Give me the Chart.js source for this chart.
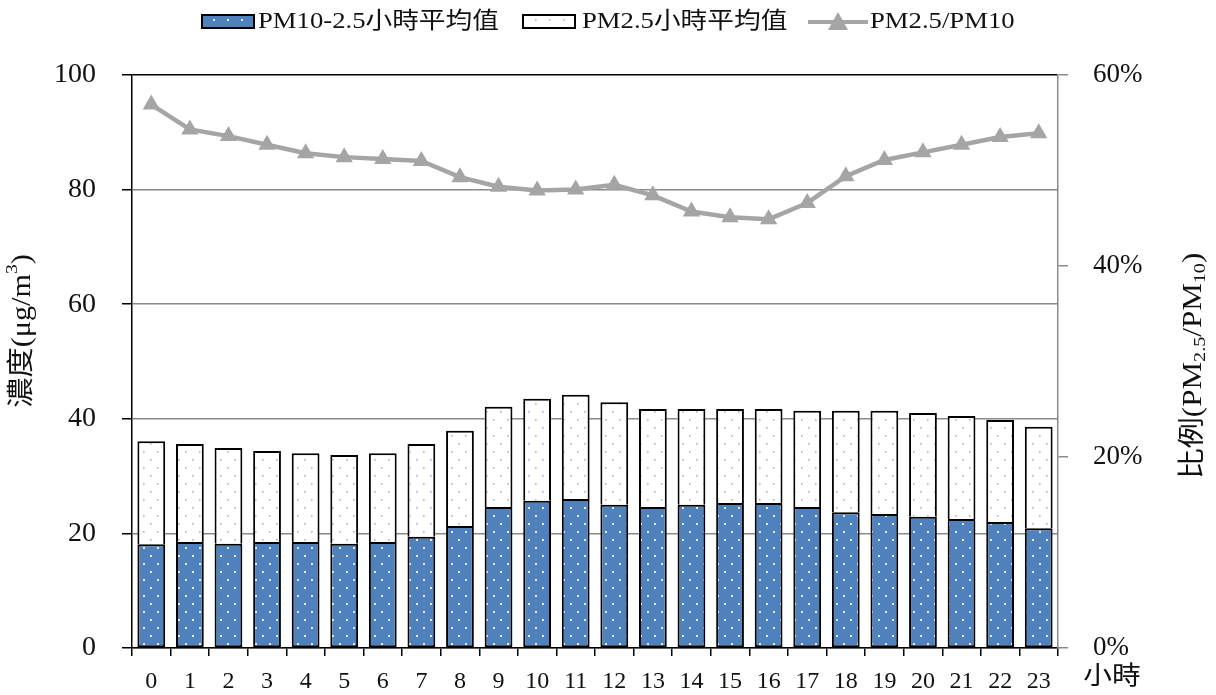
<!DOCTYPE html>
<html>
<head>
<meta charset="utf-8">
<script src="https://cdn.jsdelivr.net/npm/chart.js@4.4.1/dist/chart.umd.min.js"></script>
<style>
html,body{margin:0;padding:0;background:#fff;}
#wrap{width:1216px;height:695px;position:relative;}
</style>
</head>
<body>
<div id="wrap"><canvas id="c" width="1216" height="695"></canvas></div>
<script>
// ---- data ----
const hours = ['0','1','2','3','4','5','6','7','8','9','10','11','12','13','14','15','16','17','18','19','20','21','22','23'];
const pm10_25 = [18.1,18.5,18.2,18.5,18.5,18.2,18.5,19.4,21.3,24.6,25.7,26.0,25.0,24.6,25.0,25.3,25.3,24.6,23.7,23.4,22.9,22.5,22.0,20.9];
const pm25 = [18.0,17.1,16.7,15.9,15.5,15.5,15.5,16.2,16.6,17.5,17.8,18.2,17.9,17.1,16.7,16.4,16.4,16.8,17.7,18.0,18.1,18.0,17.8,17.7];
const ratio = [0.569,0.543,0.536,0.527,0.518,0.514,0.512,0.510,0.493,0.483,0.479,0.480,0.485,0.474,0.457,0.451,0.449,0.466,0.494,0.511,0.519,0.527,0.535,0.539];
const leftTicks = [0,20,40,60,80,100];
const rightTicks = [0,0.2,0.4,0.6];
const seriesNames = ['PM10-2.5小時平均值','PM2.5小時平均值','PM2.5/PM10'];

const BLUE = '#4f81bd';
const GRAY = '#a5a5a5';
const SERIF = "'Liberation Serif','Noto Sans CJK TC',serif";

function makePattern(bg, dot, size){
  const c = document.createElement('canvas');
  c.width = 14; c.height = 16;
  const x = c.getContext('2d');
  x.fillStyle = bg; x.fillRect(0,0,14,16);
  x.fillStyle = dot;
  x.fillRect(3,3,size,size);
  x.fillRect(10,11,size,size);
  return c;
}
const blueTile = makePattern(BLUE,'rgba(255,255,255,0.85)',2);
const whiteTile = makePattern('#ffffff','#9db3d6',1.6);
const ctx = document.getElementById('c').getContext('2d');
const bluePat = ctx.createPattern(blueTile,'repeat');
const whitePat = ctx.createPattern(whiteTile,'repeat');

function drawRich(c, runs, size, sx, align){
  let w = 0;
  const parts = runs.map(([t,m])=>{
    const fs = m ? size*0.65 : size;
    c.font = fs + 'px ' + SERIF;
    const tw = c.measureText(t).width;
    w += tw;
    return {t,m,fs,tw};
  });
  c.save();
  c.scale(sx,1);
  let x = align==='left' ? 0 : -w/2;
  parts.forEach(p=>{
    c.font = p.fs + 'px ' + SERIF;
    const dy = p.m===1 ? size*0.22 : (p.m===2 ? -size*0.38 : 0);
    c.fillText(p.t, x, dy);
    x += p.tw;
  });
  c.restore();
}

const decor = {
  id:'decor',
  afterDraw(chart){
    const c = chart.ctx;
    c.save();
    c.fillStyle = '#111';
    c.textBaseline = 'middle';
    c.textAlign = 'left';
    // ---- legend ----
    const ly = 22;
    const boxes = [[202,bluePat],[523,whitePat]];
    boxes.forEach(([bx,pat])=>{
      c.fillStyle = pat;
      c.fillRect(bx,15,52,13);
      c.strokeStyle = '#000'; c.lineWidth = 2;
      c.strokeRect(bx,15,52,13);
    });
    c.strokeStyle = GRAY; c.lineWidth = 4;
    c.beginPath(); c.moveTo(808,ly); c.lineTo(868,ly); c.stroke();
    c.fillStyle = GRAY;
    c.beginPath(); c.moveTo(838,ly-10); c.lineTo(848,ly+8); c.lineTo(828,ly+8); c.closePath(); c.fill();
    c.fillStyle = '#111';
    [[258,seriesNames[0]],[582,seriesNames[1]],[870,seriesNames[2]]].forEach(([tx,t])=>{
      c.save(); c.translate(tx,ly); drawRich(c,[[t,0]],23,1.16,'left'); c.restore();
    });
    // left title
    c.save();
    c.translate(23, 331);
    c.rotate(-Math.PI/2);
    drawRich(c, [['濃度(μg/m',0],['3',2],[')',0]], 27, 1.12);
    c.restore();
    // right title
    c.save();
    c.translate(1194, 366);
    c.rotate(-Math.PI/2);
    drawRich(c, [['比例(PM',0],['2.5',1],['/PM',0],['10',1],[')',0]], 27, 1.15);
    c.restore();
    // x title
    c.save();
    c.translate(1112, 677);
    drawRich(c, [['小時',0]], 25, 1.15);
    c.restore();
    c.restore();
  }
};

new Chart(ctx, {
  data: {
    labels: hours,
    datasets: [
      {type:'bar', label:seriesNames[0], data: pm10_25, backgroundColor: bluePat, borderColor:'#000', borderWidth:2, borderSkipped:false, yAxisID:'y', order:2, stack:'s'},
      {type:'bar', label:seriesNames[1], data: pm25, backgroundColor: whitePat, borderColor:'#000', borderWidth:2, borderSkipped:'start', yAxisID:'y', order:2, stack:'s'},
      {type:'line', label:seriesNames[2], data: ratio, borderColor: GRAY, backgroundColor: GRAY, borderWidth:4.5, pointStyle:'triangle', pointRadius:10, pointHoverRadius:10, pointBackgroundColor: GRAY, pointBorderColor: GRAY, pointBorderWidth:0, yAxisID:'y1', order:1, tension:0}
    ]
  },
  options: {
    responsive:false,
    animation:false,
    devicePixelRatio:1,
    layout:{padding:{top:75,left:0,right:0,bottom:0}},
    datasets:{bar:{categoryPercentage:1.0, barPercentage:0.72}},
    plugins:{
      tooltip:{enabled:false},
      legend:{display:false}
    },
    scales:{
      x:{
        stacked:true,
        offset:true,
        grid:{display:true, offset:true, drawOnChartArea:false, drawTicks:true, tickLength:8, color:'#000', lineWidth:1.5},
        border:{display:true, color:'#000', width:1.5},
        ticks:{color:'#111', font:{family:SERIF, size:24}, padding:11, maxRotation:0, autoSkip:false},
        afterFit(s){ s.height = 47; }
      },
      y:{
        position:'left',
        stacked:true,
        min:0, max:100,
        afterBuildTicks(s){ s.ticks = leftTicks.map(v=>({value:v})); },
        grid:{color:(c)=> c.tick && c.tick.value===100 ? '#000' : '#8a8a8a', lineWidth:1.5, tickLength:10, drawTicks:true, tickColor:'#000'},
        border:{display:true, color:'#000', width:1.5},
        ticks:{color:'#111', font:{family:SERIF, size:28}, padding:26},
        afterFit(s){ s.width = 132; }
      },
      y1:{
        position:'right',
        min:0, max:0.6,
        afterBuildTicks(s){ s.ticks = rightTicks.map(v=>({value:v})); },
        grid:{drawOnChartArea:false, color:'#8a8a8a', lineWidth:1.5, tickLength:10},
        border:{display:true, color:'#8a8a8a', width:1.5},
        ticks:{color:'#111', font:{family:SERIF, size:27}, padding:25, callback:(v)=>Math.round(v*100)+'%'},
        afterFit(s){ s.width = 158; }
      }
    }
  },
  plugins:[decor]
});
</script>
</body>
</html>
